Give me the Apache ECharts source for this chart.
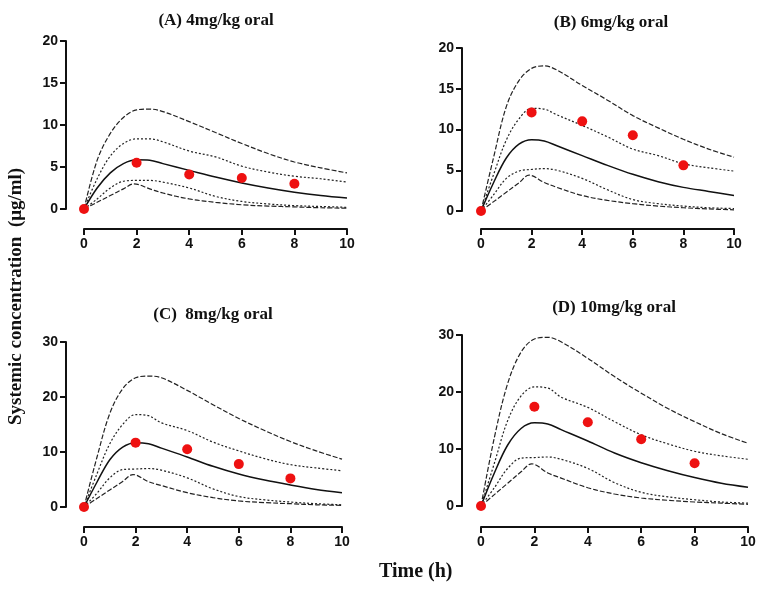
<!DOCTYPE html>
<html>
<head>
<meta charset="utf-8">
<script src="https://cdn.jsdelivr.net/npm/echarts@6/dist/echarts.min.js"></script>
<style>
  html, body { margin: 0; padding: 0; background: #fff; }
  #mycharts { width: 760px; height: 593px; }
</style>
</head>
<body>
<div id="mycharts"></div>
<script>
// time points of the simulated curves (h)
var tCurve = [0, 0.5, 1, 1.5, 2, 2.5, 3, 4, 5, 6, 7, 8, 9, 10];
// lower outer curve has its sharp peak just before 2 h
var tLow = [0, 0.5, 1, 1.5, 1.9, 2.5, 3, 4, 5, 6, 7, 8, 9, 10];
var tObs = [0, 2, 4, 6, 8];

// (A) 4mg/kg
var aHi = [0, 5.8, 9.0, 10.9, 11.8, 11.9, 11.6, 10.4, 9.1, 7.8, 6.6, 5.6, 4.9, 4.3];
var aUp = [0, 3.6, 6.3, 7.8, 8.35, 8.35, 8.0, 6.9, 6.2, 5.1, 4.4, 3.9, 3.6, 3.2];
var aMed = [0, 2.5, 4.3, 5.4, 5.85, 5.8, 5.4, 4.6, 3.8, 3.1, 2.5, 2.0, 1.6, 1.3];
var aLo = [0, 1.2, 2.5, 3.3, 3.4, 3.4, 3.2, 2.5, 1.5, 0.9, 0.6, 0.4, 0.3, 0.2];
var aMin = [0, 0.8, 1.6, 2.4, 3.0, 2.4, 1.9, 1.2, 0.8, 0.5, 0.35, 0.25, 0.15, 0.1];
var aObs = [0, 5.5, 4.1, 3.7, 3.0];

// (B) 6mg/kg
var bHi = [0, 6.6, 12.8, 16.0, 17.5, 17.8, 17.3, 15.4, 13.6, 11.7, 10.2, 8.8, 7.6, 6.6];
var bUp = [0, 4.5, 8.7, 11.3, 12.6, 12.5, 11.8, 10.5, 9.1, 7.6, 6.8, 5.8, 5.3, 4.9];
var bMed = [0, 3.5, 6.5, 8.2, 8.75, 8.6, 8.0, 6.8, 5.6, 4.5, 3.6, 2.9, 2.4, 1.9];
var bLo = [0, 2.0, 4.0, 4.9, 5.1, 5.2, 5.0, 4.0, 2.6, 1.4, 0.9, 0.6, 0.4, 0.3];
var bMin = [0, 1.15, 2.3, 3.45, 4.4, 3.5, 2.9, 1.9, 1.3, 0.9, 0.6, 0.4, 0.25, 0.15];
var bObs = [0, 12.1, 11.0, 9.3, 5.6];

// (C) 8mg/kg
var cHi = [0, 9.0, 17.0, 21.5, 23.5, 23.8, 23.5, 21.2, 18.6, 16.1, 13.9, 11.9, 10.2, 8.7];
var cUp = [0, 6.0, 11.5, 15.0, 16.8, 16.6, 15.3, 13.9, 11.8, 10.2, 8.8, 7.7, 7.1, 6.6];
var cMed = [0, 4.5, 8.6, 10.9, 11.7, 11.5, 10.7, 9.1, 7.4, 6.0, 4.9, 4.0, 3.2, 2.6];
var cLo = [0, 2.5, 5.3, 6.8, 6.9, 7.0, 6.7, 5.3, 3.3, 1.9, 1.3, 0.9, 0.6, 0.4];
var cMin = [0, 1.55, 3.1, 4.65, 5.9, 4.6, 3.9, 2.6, 1.7, 1.1, 0.8, 0.6, 0.4, 0.3];
var cObs = [0, 11.7, 10.5, 7.8, 5.2];

// (D) 10mg/kg
var dHi = [0, 12.0, 21.5, 27.0, 29.3, 29.6, 28.8, 25.9, 22.7, 19.8, 17.1, 14.8, 12.7, 11.0];
var dUp = [0, 7.5, 15.0, 19.3, 20.9, 20.7, 19.1, 17.3, 14.8, 12.5, 10.9, 9.6, 8.8, 8.2];
var dMed = [0, 5.8, 10.7, 13.6, 14.6, 14.4, 13.4, 11.4, 9.3, 7.6, 6.2, 5.0, 4.0, 3.3];
var dLo = [0, 3.2, 6.6, 8.4, 8.5, 8.6, 8.2, 6.6, 4.1, 2.4, 1.6, 1.1, 0.7, 0.5];
var dMin = [0, 2.0, 4.0, 6.0, 7.4, 5.8, 4.9, 3.2, 2.1, 1.4, 1.0, 0.7, 0.5, 0.3];
var dObs = [0, 17.4, 14.7, 11.7, 7.5];

var titles = ["(A) 4mg/kg oral", "(B) 6mg/kg oral", "(C)  8mg/kg oral", "(D) 10mg/kg oral"];
var yMax = [20, 20, 30, 30];
var yStep = [5, 5, 10, 10];

var panels = [
  [aHi, aUp, aMed, aLo, aMin, aObs],
  [bHi, bUp, bMed, bLo, bMin, bObs],
  [cHi, cUp, cMed, cLo, cMin, cObs],
  [dHi, dUp, dMed, dLo, dMin, dObs]
];

var grids = [
  { left: 84, right: 413, top: 41, bottom: 384 },
  { left: 481, right: 26, top: 48, bottom: 382 },
  { left: 84, right: 418, top: 342, bottom: 86 },
  { left: 481, right: 12, top: 335, bottom: 87 }
];
var yOffset = [18, 19, 18, 19];
var xOffset = [20, 18, 20, 21];
var titlePos = [[211, 7], [606, 9], [208, 301], [609, 294]];

function pairs(t, v) {
  return t.map(function (x, i) { return [x, v[i]]; });
}

var axisFont = { fontFamily: "Liberation Sans, Arial", fontWeight: "bold", fontSize: 14, color: "#111" };
var axisLine = { show: true, onZero: false, lineStyle: { color: "#111", width: 2 } };
var axisTick = { show: true, length: 6, lineStyle: { color: "#111", width: 2 } };
var serif = "'Liberation Serif', 'Times New Roman', serif";

var option = {
  animation: false,
  backgroundColor: "#fff",
  title: [],
  grid: grids,
  xAxis: [],
  yAxis: [],
  series: [],
  graphic: [
    {
      type: "text", x: 7, y: 425, rotation: Math.PI / 2,
      style: { text: "Systemic concentration  (μg/ml)", font: "bold 19px " + serif, fill: "#111" }
    },
    {
      type: "text", left: 379, top: 562,
      style: { text: "Time (h)", font: "bold 20px " + serif, fill: "#111" }
    }
  ]
};

var styles = [
  { type: [5, 2], width: 1.2, color: "#222" },
  { type: [2, 2], width: 1.2, color: "#222" },
  { type: "solid", width: 1.5, color: "#111" },
  { type: [2, 2], width: 1.2, color: "#222" },
  { type: [5, 2], width: 1.2, color: "#222" }
];

panels.forEach(function (p, i) {
  option.title.push({
    text: titles[i],
    left: titlePos[i][0], top: titlePos[i][1], textAlign: "center",
    textStyle: { fontFamily: "Liberation Serif, Times New Roman", fontWeight: "bold", fontSize: 17, color: "#111" }
  });
  option.xAxis.push({
    type: "value", gridIndex: i, min: 0, max: 10, interval: 2, offset: xOffset[i],
    axisLine: axisLine,
    axisTick: axisTick,
    axisLabel: Object.assign({ margin: 8 }, axisFont),
    splitLine: { show: false }
  });
  option.yAxis.push({
    type: "value", gridIndex: i, min: 0, max: yMax[i], interval: yStep[i], offset: yOffset[i],
    axisLine: axisLine,
    axisTick: axisTick,
    axisLabel: Object.assign({ margin: 8 }, axisFont),
    splitLine: { show: false }
  });
  for (var k = 0; k < 5; k++) {
    option.series.push({
      type: "line", xAxisIndex: i, yAxisIndex: i,
      data: pairs(k === 4 ? tLow : tCurve, p[k]),
      smooth: 0.35, symbol: "none",
      lineStyle: styles[k]
    });
  }
  option.series.push({
    type: "scatter", xAxisIndex: i, yAxisIndex: i,
    data: pairs(tObs, p[5]),
    symbolSize: 10, itemStyle: { color: "#ee1111", opacity: 1 }, z: 5
  });
});

var myCharts = echarts.init(document.getElementById("mycharts"));
myCharts.setOption(option);
</script>
</body>
</html>
